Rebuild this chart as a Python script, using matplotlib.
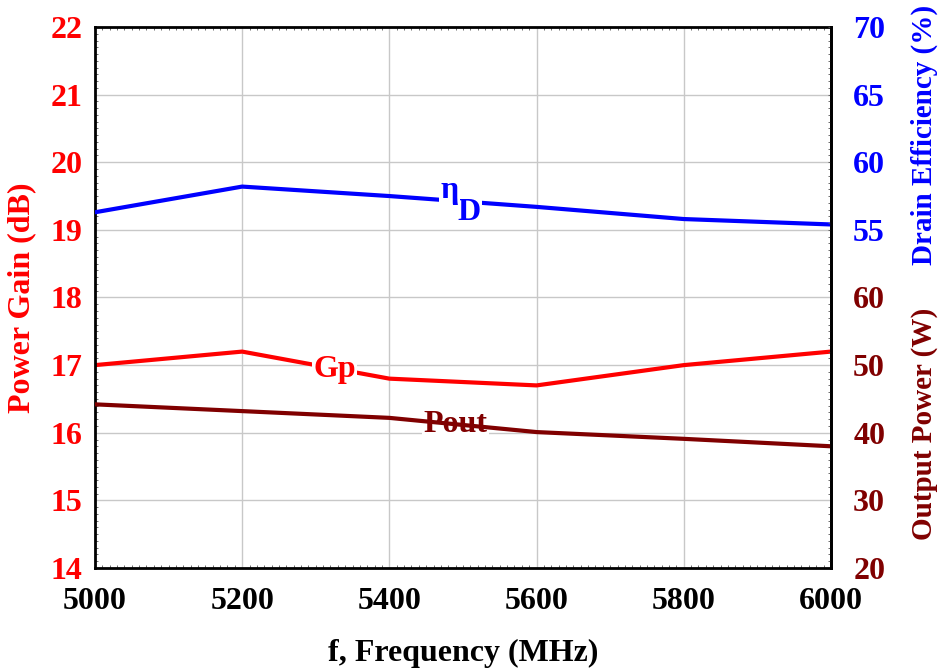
import numpy as np
import matplotlib.pyplot as plt
from matplotlib.ticker import MultipleLocator

# data
freq = [5000, 5200, 5400, 5600, 5800, 6000]          # MHz
gain = [17.0, 17.2, 16.8, 16.7, 17.0, 17.2]          # dB
eff = [56.3, 58.2, 57.5, 56.7, 55.8, 55.4]           # %
pout = [44.2, 43.2, 42.2, 40.1, 39.1, 38.0]          # W

eff_ticks = [55, 60, 65, 70]
pout_ticks = [20, 30, 40, 50, 60]

RED = '#ff0000'
BLUE = '#0000ff'
DRED = '#800000'
FS = 23

plt.rcParams['font.family'] = ['Liberation Serif', 'DejaVu Serif']
plt.rcParams['font.weight'] = 'bold'

fig = plt.figure(figsize=(9.42, 6.68), dpi=100)
ax = fig.add_axes([0.1008, 0.1497, 0.7813, 0.8099])

# gain on the left axis
ax.plot(freq, gain, color=RED, lw=3)
ax.set_xlim(5000, 6000)
ax.set_ylim(14, 22)
ax.xaxis.set_major_locator(MultipleLocator(200))
ax.xaxis.set_minor_locator(MultipleLocator(10))
ax.yaxis.set_major_locator(MultipleLocator(1))
ax.yaxis.set_minor_locator(MultipleLocator(0.1))
ax.grid(True, which='major', color='#c8c8c8', lw=1)
ax.tick_params(which='both', direction='in', top=True, right=False, labelsize=FS)
ax.tick_params(which='major', length=0)
ax.tick_params(axis='x', which='major', pad=14)
ax.tick_params(axis='y', which='major', pad=9, labelcolor=RED)
ax.tick_params(which='minor', length=2.5, width=0.6, color='#555555')
for s in ax.spines.values():
    s.set_linewidth(2)
ax.set_xlabel('f, Frequency (MHz)', fontsize=FS, fontweight='bold', labelpad=16)
ax.set_ylabel('Power Gain (dB)', fontsize=FS, fontweight='bold', color=RED, labelpad=10)

# efficiency: 55% sits on 19 dB, 70% on 22 dB
ax_e = ax.twinx()
ax_e.plot(freq, eff, color=BLUE, lw=3)
ax_e.set_ylim(30, 70)
ax_e.set_yticks(eff_ticks)
ax_e.tick_params(axis='y', length=0, labelsize=FS, labelcolor=BLUE, pad=16)
for s in ax_e.spines.values():
    s.set_visible(False)

# output power: 20 W on 14 dB, 60 W on 18 dB
ax_p = ax.twinx()
ax_p.plot(freq, pout, color=DRED, lw=3)
ax_p.set_ylim(20, 100)
ax_p.set_yticks(pout_ticks)
ax_p.yaxis.set_minor_locator(MultipleLocator(1))
ax_p.tick_params(axis='y', which='major', length=0, labelsize=FS, labelcolor=DRED, pad=16)
ax_p.tick_params(axis='y', which='minor', direction='in', length=2.5, width=0.6, color='#555555')
ax_p.spines['right'].set_linewidth(2)
for k in ['left', 'top', 'bottom']:
    ax_p.spines[k].set_visible(False)

fig.text(0.981, 0.798, 'Drain Efficiency (%)', rotation=90, color=BLUE,
         fontsize=21, fontweight='bold', ha='center', va='center')
fig.text(0.981, 0.366, 'Output Power (W)', rotation=90, color=DRED,
         fontsize=21, fontweight='bold', ha='center', va='center')

# in-line curve labels
box = dict(facecolor='white', edgecolor='none', pad=1)
ax.text(5326, 16.93, 'Gp', color=RED, fontsize=FS, fontweight='bold',
        ha='center', va='center', bbox=box, zorder=5)
ax.text(5490, 16.12, 'Pout', color=DRED, fontsize=FS, fontweight='bold',
        ha='center', va='center', bbox=box, zorder=5)
ax_e.text(5508, 56.3, 'D', color=BLUE, fontsize=FS, fontweight='bold',
          ha='center', va='center', bbox=box, zorder=5)
ax_e.text(5482, 57.9, 'η', color=BLUE, fontsize=23, fontweight='bold',
          ha='center', va='center', bbox=box, zorder=6)

fig.savefig('out.png', dpi=100)
